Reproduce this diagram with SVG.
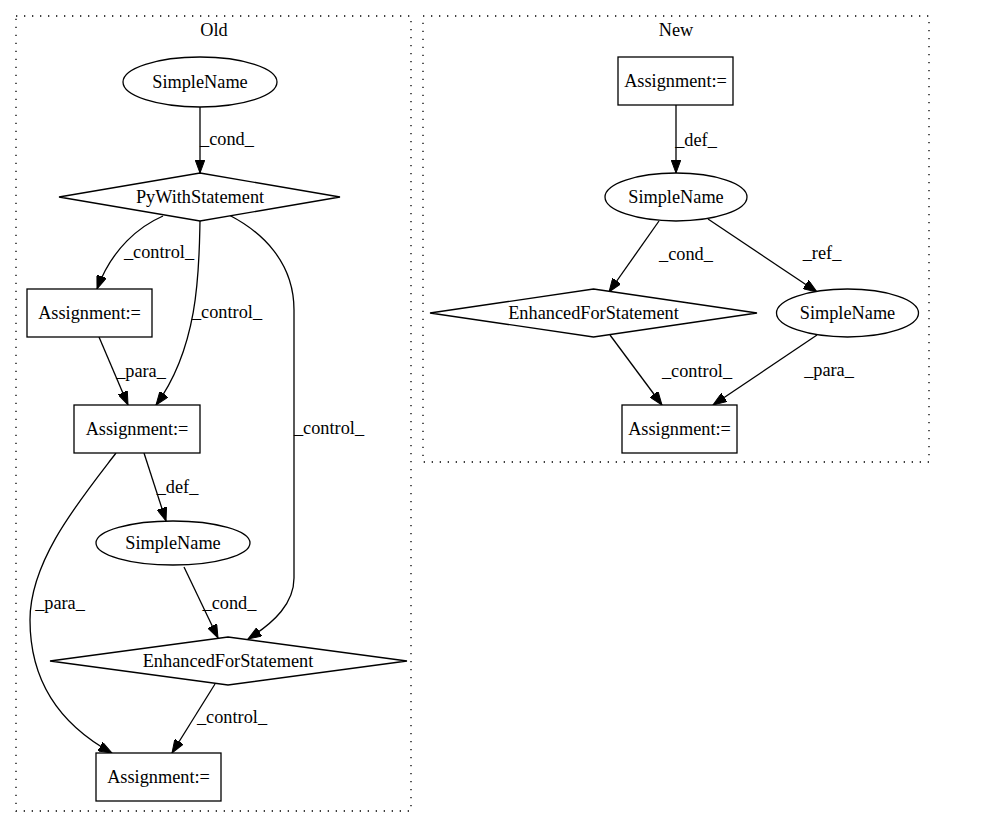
<svg xmlns="http://www.w3.org/2000/svg" width="989" height="828" viewBox="0 0 989 828">
<style>
text{font-family:"Liberation Serif",Tinos,"Times New Roman","DejaVu Serif",serif;font-size:18.3px;fill:#000;text-anchor:middle}
.cl{fill:none;stroke:#000;stroke-width:1.3;stroke-dasharray:1.3,6.7}
.n{fill:#fff;stroke:#000;stroke-width:1.3}
.e{fill:none;stroke:#000;stroke-width:1.3;marker-end:url(#ah)}
</style>
<defs>
<marker id="ah" markerUnits="userSpaceOnUse" markerWidth="14" markerHeight="10" refX="13.5" refY="5" orient="auto"><path d="M0,0 L13.5,5 L0,10 z" fill="#000" stroke="#000" stroke-width="1"/></marker>
</defs>
<rect width="989" height="828" fill="#fff"/>
<g id="cluster_old"><rect class="cl" x="16" y="16" width="395" height="795"/><text x="214" y="36">Old</text></g>
<g id="cluster_new"><rect class="cl" x="423" y="16" width="506" height="446"/><text x="676" y="36">New</text></g>

<g id="connectors">
<path class="e" d="M200,107 L200,173"/><text x="227" y="145">_cond_</text>
<path class="e" d="M163,216 C140,226 112,248 97,289"/><text x="159" y="258">_control_</text>
<path class="e" d="M200,221 C199,265 200,345 156,405"/><text x="227" y="318">_control_</text>
<path class="e" d="M229,215 C262,232 294,262 294,310 L294,578 C294,603 275,622 248,639"/><text x="329" y="434">_control_</text>
<path class="e" d="M99,337 L128,405"/><text x="141" y="377">_para_</text>
<path class="e" d="M144,453 L166,521"/><text x="177.5" y="493">_def_</text>
<path class="e" d="M116,453 C80,500 30,560 30,620 C30,690 70,730 112,753"/><text x="60" y="609">_para_</text>
<path class="e" d="M184,567 L218,638"/><text x="229.5" y="609">_cond_</text>
<path class="e" d="M215,684 L172,753"/><text x="232" y="723">_control_</text>

<path class="e" d="M676,105 L676,173"/><text x="696" y="146">_def_</text>
<path class="e" d="M659,221 L609,292"/><text x="686" y="260">_cond_</text>
<path class="e" d="M708,219 L817,292"/><text x="822" y="259">_ref_</text>
<path class="e" d="M610,335 L662,405"/><text x="697" y="377">_control_</text>
<path class="e" d="M817,335 L713,405"/><text x="829" y="376">_para_</text>
</g>

<g id="old_simplename1"><ellipse class="n" cx="200" cy="82" rx="77" ry="25"/><text x="200" y="88">SimpleName</text></g>
<g id="old_pywith"><polygon class="n" points="200,173 340,197 200,221 59,197"/><text x="200" y="203">PyWithStatement</text></g>
<g id="old_assign1"><rect class="n" x="27" y="289" width="125" height="48"/><text x="89.5" y="319">Assignment:=</text></g>
<g id="old_assign2"><rect class="n" x="74" y="405" width="126" height="48"/><text x="137" y="435">Assignment:=</text></g>
<g id="old_simplename2"><ellipse class="n" cx="173" cy="543" rx="77" ry="22"/><text x="173" y="549">SimpleName</text></g>
<g id="old_enhfor"><polygon class="n" points="228,637 407,661 228,685 50,661"/><text x="228" y="667">EnhancedForStatement</text></g>
<g id="old_assign3"><rect class="n" x="96" y="753" width="125" height="48"/><text x="158.5" y="783">Assignment:=</text></g>

<g id="new_assign1"><rect class="n" x="618" y="57" width="115" height="48"/><text x="675.5" y="87">Assignment:=</text></g>
<g id="new_simplename1"><ellipse class="n" cx="676" cy="197" rx="71" ry="24"/><text x="676" y="203">SimpleName</text></g>
<g id="new_enhfor"><polygon class="n" points="593.5,289 757,313 593.5,337 430,313"/><text x="593.5" y="319">EnhancedForStatement</text></g>
<g id="new_simplename2"><ellipse class="n" cx="847.5" cy="313" rx="71" ry="24"/><text x="847.5" y="319">SimpleName</text></g>
<g id="new_assign2"><rect class="n" x="622" y="405" width="115" height="48"/><text x="679.5" y="435">Assignment:=</text></g>
</svg>
